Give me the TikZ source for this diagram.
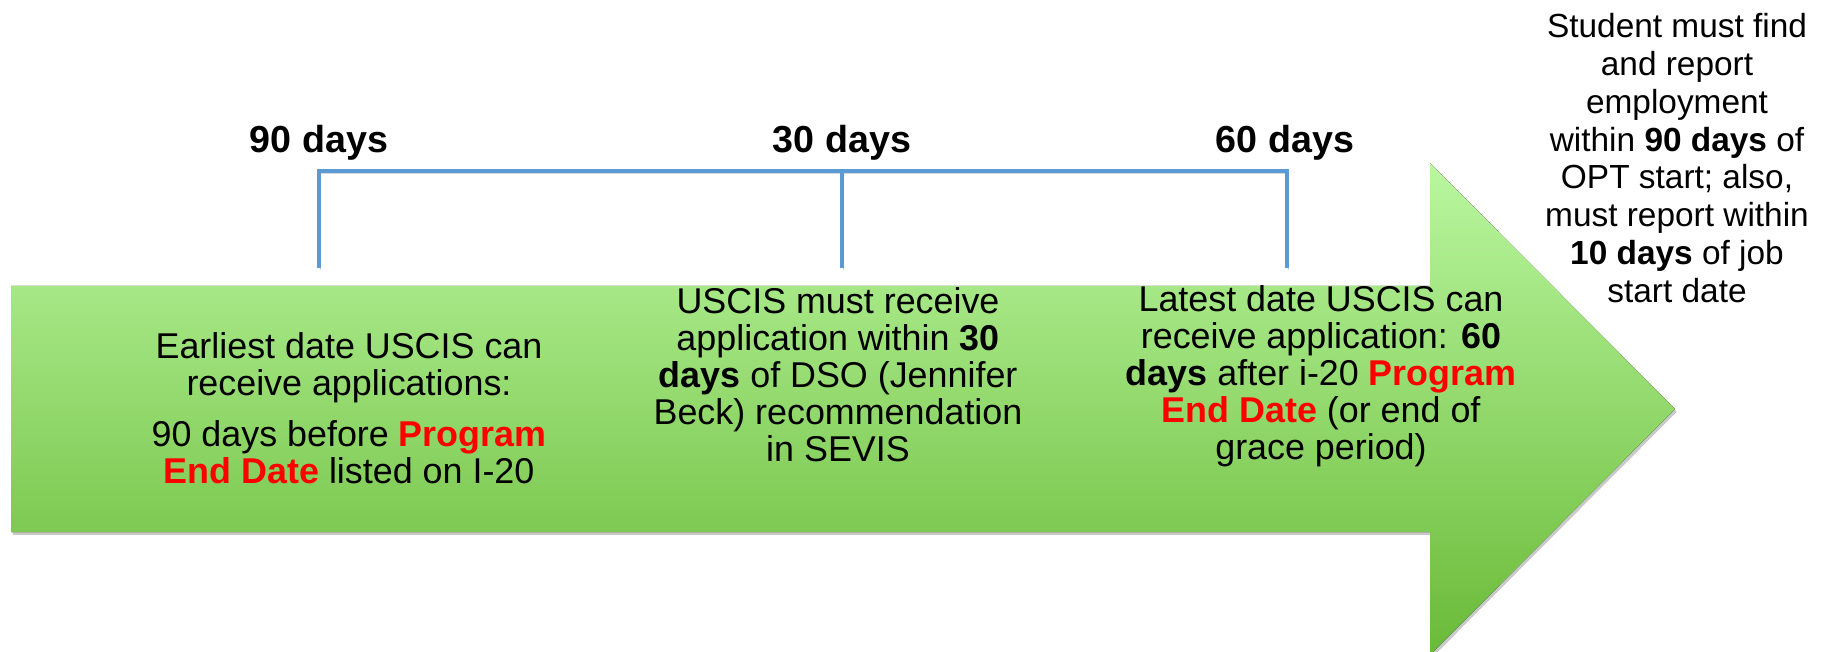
\documentclass[tikz,border=0pt]{standalone}
\usepackage{fontspec}
\setmainfont{Liberation Sans}
\usetikzlibrary{positioning, shadows}
\definecolor{arrowtop}{RGB}{186,247,160}
\definecolor{arrowmid}{RGB}{170,236,139}
\definecolor{arrowbot}{RGB}{106,186,56}
\definecolor{bracket}{RGB}{91,155,213}
\definecolor{hilite}{RGB}{255,0,0}
\newcommand{\redbf}[1]{\textcolor{hilite}{\bfseries #1}}

\begin{document}
\begin{tikzpicture}[
  x=0.01cm, y=-0.01cm, every node/.style={align=center, inner sep=0pt},
  lbl/.style={font=\fontsize{10.7}{12}\selectfont\bfseries},
  txt/.style={font=\fontsize{10.2}{10.5}\selectfont},
  note/.style={font=\fontsize{9.5}{10.75}\selectfont},
  brk/.style={draw=bracket, line width=1pt,
    preaction={draw=black, opacity=0.15, transform canvas={xshift=0.4pt, yshift=-0.6pt}}},
  arrowbody/.style={top color=arrowtop, middle color=arrowmid, bottom color=arrowbot,
    drop shadow={shadow xshift=0.5pt, shadow yshift=-0.8pt, opacity=0.3, fill=black!70}}
]
\useasboundingbox (0,0) rectangle (1831,652);

% big arrow
\fill[arrowbody] (11,286) -- (1430,286) -- (1430,163) -- (1675,409)
  -- (1430,655) -- (1430,532) -- (11,532) -- cycle;

% bracket over the timeline
\coordinate (b90) at (319,171);
\coordinate (b30) at (842,171);
\coordinate (b60) at (1287,171);
\coordinate (e90) at (319,268);
\coordinate (e30) at (842,268);
\coordinate (e60) at (1287,268);
\draw[brk] (e90) -- (b90) -- (b60) -- (e60);
\draw[brk] (b30) -- (e30);

\node[lbl, anchor=base] (l90) at (319,153) {90 days};
\node[lbl, anchor=base] (l30) at (842,153) {30 days};
\node[lbl, anchor=base] (l60) at (1285,153) {60 days};

% texts on the arrow
\node[txt] (earliest) at (349,408) {Earliest date USCIS can\\ receive applications:\\[4pt]
  90 days before \redbf{Program}\\ \redbf{End Date} listed on I-20};
\node[txt] (within) at (838,375) {USCIS must receive\\ application within \textbf{30}\\
  \textbf{days} of DSO (Jennifer\\ Beck) recommendation\\ in SEVIS};
\node[txt] (latest) at (1321,376) {Latest date USCIS can\\ receive application: \textbf{60}\\
  \textbf{days} after i-20 \redbf{Program}\\ \redbf{End Date} (or end of\\ grace period)};

% after the arrow
\node[note] (report) at (1677,158) {Student must find\\ and report\\ employment\\
  within \textbf{90 days} of\\ OPT start; also,\\ must report within\\
  \textbf{10 days} of job\\ start date};
\end{tikzpicture}
\end{document}
